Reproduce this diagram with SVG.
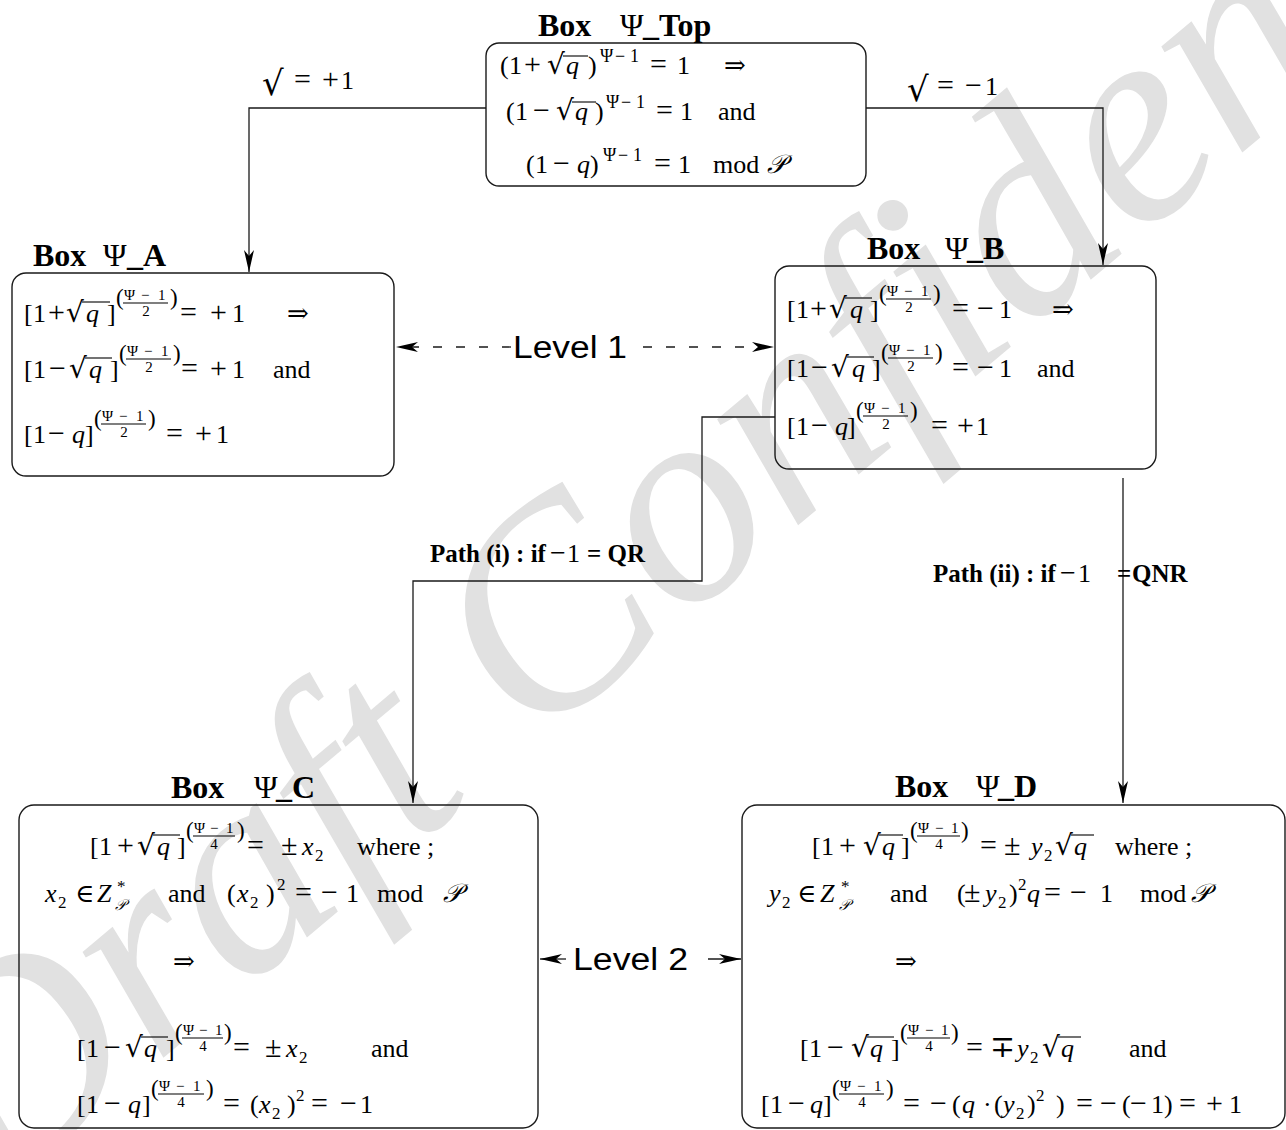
<svg xmlns="http://www.w3.org/2000/svg" width="1286" height="1130" viewBox="0 0 1286 1130">
<defs>
<style>
.t{font-family:"Liberation Serif","DejaVu Serif",serif;font-size:26px;fill:#000}
.i{font-style:italic}
.sp{font-size:18px}
.fr{font-size:15px}
.bp{font-size:23px}
.op{font-size:30px}
.sm{font-size:17px}
.rt{font-family:"DejaVu Serif",serif;font-size:28px}
.rb{font-family:"DejaVu Serif",serif;font-size:34px}
.ttl{font-family:"Liberation Serif",serif;font-weight:bold;font-size:32px;fill:#000}
.n{font-weight:normal}
.pl{font-family:"Liberation Serif",serif;font-weight:bold;font-size:25px;fill:#000}
.lvl{font-family:"Liberation Sans",Arial,sans-serif;font-size:31px;fill:#000}
.box{fill:none;stroke:#1a1a1a;stroke-width:1.4}
.ln{fill:none;stroke:#1a1a1a;stroke-width:1.3}
.dash{stroke-dasharray:9 14}
.vb{stroke:#000;stroke-width:1.1}
.wm{font-family:"Liberation Serif",serif;font-style:italic;fill:#e1e1e1}
</style>
<marker id="ah" viewBox="-24 -6 25 12" refX="0" refY="0" markerWidth="25" markerHeight="12" markerUnits="userSpaceOnUse" orient="auto"><path d="M0,0 L-22,-5 L-16,0 L-22,5 Z" fill="#000"/></marker>
</defs>
<rect x="0" y="0" width="1286" height="1130" fill="#fff"/>
<text class="wm" font-size="290" transform="translate(-6,1200) rotate(-40)">Draft Confidential</text>

<g id="connectors">
<polyline class="ln" points="486,108 249,108 249,272" marker-end="url(#ah)"/>
<polyline class="ln" points="866,108 1103,108 1103,265" marker-end="url(#ah)"/>
<polyline class="ln" points="775,417 702,417 702,581 413,581 413,803" marker-end="url(#ah)"/>
<line class="ln" x1="1123" y1="478" x2="1123" y2="803" marker-end="url(#ah)"/>
<line class="ln dash" x1="511" y1="347" x2="396" y2="347" marker-end="url(#ah)"/>
<line class="ln dash" x1="643" y1="347" x2="774" y2="347" marker-end="url(#ah)"/>
<line class="ln" x1="566" y1="959" x2="540" y2="959" marker-end="url(#ah)"/>
<line class="ln" x1="708" y1="959" x2="741" y2="959" marker-end="url(#ah)"/>
<text class="t" y="95"><tspan class="rb" x="262">√</tspan><tspan class="op" x="294" dy="-6">=</tspan><tspan class="op" x="322">+</tspan><tspan x="341">1</tspan></text>
<text class="t" y="101"><tspan class="rb" x="907">√</tspan><tspan class="op" x="937" dy="-6">=</tspan><tspan class="op" x="965">−</tspan><tspan x="985">1</tspan></text>
<text class="pl" y="562"><tspan x="430">Path (i) : if</tspan><tspan class="n" x="550" font-size="28">−</tspan><tspan class="n" x="567" font-size="26">1</tspan><tspan x="587">= QR</tspan></text>
<text class="pl" y="582"><tspan x="933">Path (ii) : if</tspan><tspan class="n" x="1060" font-size="28">−</tspan><tspan class="n" x="1078" font-size="26">1</tspan><tspan x="1117">=</tspan><tspan x="1132">QNR</tspan></text>
<text class="lvl" x="513" y="358" textLength="114" lengthAdjust="spacingAndGlyphs">Level 1</text>
<text class="lvl" x="573" y="970" textLength="115" lengthAdjust="spacingAndGlyphs">Level 2</text>
</g>

<g id="box-top">
<rect class="box" x="486" y="43" width="380" height="143" rx="13"/>
<text class="ttl" y="36"><tspan x="538">Box</tspan><tspan class="n" x="620">Ψ</tspan><tspan x="643">_Top</tspan></text>
<text class="t" y="74"><tspan x="500">(</tspan><tspan x="509">1</tspan><tspan class="op" x="524">+</tspan><tspan class="rt" x="547">√</tspan><tspan class="i" x="566">q</tspan><tspan x="588">)</tspan><tspan class="op" x="650">=</tspan><tspan x="677">1</tspan><tspan x="724">⇒</tspan></text>
<text class="t sp" y="62"><tspan x="600">Ψ</tspan><tspan x="615">−</tspan><tspan x="630">1</tspan></text>
<line class="vb" x1="563" y1="56" x2="588" y2="56"/>
<text class="t" y="120"><tspan x="506">(</tspan><tspan x="515">1</tspan><tspan class="op" x="533">−</tspan><tspan class="rt" x="556">√</tspan><tspan class="i" x="575">q</tspan><tspan x="595">)</tspan><tspan class="op" x="656">=</tspan><tspan x="680">1</tspan><tspan x="718">and</tspan></text>
<text class="t sp" y="108"><tspan x="606">Ψ</tspan><tspan x="621">−</tspan><tspan x="636">1</tspan></text>
<line class="vb" x1="572" y1="102" x2="596" y2="102"/>
<text class="t" y="173"><tspan x="526">(</tspan><tspan x="535">1</tspan><tspan class="op" x="553">−</tspan><tspan class="i" x="577">q</tspan><tspan x="590">)</tspan><tspan class="op" x="654">=</tspan><tspan x="678">1</tspan><tspan x="713">mod</tspan><tspan class="i" x="767">𝒫</tspan></text>
<text class="t sp" y="161"><tspan x="603">Ψ</tspan><tspan x="618">−</tspan><tspan x="633">1</tspan></text>
</g>

<g id="box-a">
<rect class="box" x="12" y="273" width="382" height="203" rx="14"/>
<text class="ttl" y="266"><tspan x="33">Box</tspan><tspan class="n" x="103">Ψ</tspan><tspan x="127">_A</tspan></text>
<text class="t" y="322"><tspan x="24">[</tspan><tspan x="33">1</tspan><tspan class="op" x="48">+</tspan><tspan class="rt" x="66">√</tspan><tspan class="i" x="86">q</tspan><tspan x="107">]</tspan><tspan class="op" x="180">=</tspan><tspan class="op" x="210">+</tspan><tspan x="232">1</tspan><tspan x="287">⇒</tspan></text>
<line class="vb" x1="82" y1="302" x2="110" y2="302"/>
<text class="t bp" x="116" y="305">(</text>
<text class="t bp" x="170" y="305">)</text>
<text class="t fr" y="300"><tspan x="124">Ψ</tspan><tspan x="141">−</tspan><tspan x="158">1</tspan></text>
<line class="vb" x1="123" y1="303" x2="168" y2="303"/>
<text class="t fr" x="146" y="316" text-anchor="middle">2</text>
<text class="t" y="378"><tspan x="24">[</tspan><tspan x="33">1</tspan><tspan class="op" x="49">−</tspan><tspan class="rt" x="69">√</tspan><tspan class="i" x="89">q</tspan><tspan x="110">]</tspan><tspan class="op" x="181">=</tspan><tspan class="op" x="210">+</tspan><tspan x="232">1</tspan><tspan x="273">and</tspan></text>
<line class="vb" x1="85" y1="358" x2="112" y2="358"/>
<text class="t bp" x="119" y="361">(</text>
<text class="t bp" x="173" y="361">)</text>
<text class="t fr" y="356"><tspan x="127">Ψ</tspan><tspan x="144">−</tspan><tspan x="161">1</tspan></text>
<line class="vb" x1="126" y1="359" x2="171" y2="359"/>
<text class="t fr" x="149" y="372" text-anchor="middle">2</text>
<text class="t" y="443"><tspan x="24">[</tspan><tspan x="33">1</tspan><tspan class="op" x="48">−</tspan><tspan class="i" x="72">q</tspan><tspan x="85">]</tspan><tspan class="op" x="166">=</tspan><tspan class="op" x="195">+</tspan><tspan x="216">1</tspan></text>
<text class="t bp" x="94" y="426">(</text>
<text class="t bp" x="148" y="426">)</text>
<text class="t fr" y="421"><tspan x="102">Ψ</tspan><tspan x="119">−</tspan><tspan x="136">1</tspan></text>
<line class="vb" x1="101" y1="424" x2="146" y2="424"/>
<text class="t fr" x="124" y="437" text-anchor="middle">2</text>
</g>

<g id="box-b">
<rect class="box" x="775" y="266" width="381" height="203" rx="14"/>
<text class="ttl" y="259"><tspan x="867">Box</tspan><tspan class="n" x="945">Ψ</tspan><tspan x="967">_B</tspan></text>
<text class="t" y="318"><tspan x="787">[</tspan><tspan x="796">1</tspan><tspan class="op" x="810">+</tspan><tspan class="rt" x="829">√</tspan><tspan class="i" x="850">q</tspan><tspan x="870">]</tspan><tspan class="op" x="952">=</tspan><tspan class="op" x="977">−</tspan><tspan x="999">1</tspan><tspan x="1052">⇒</tspan></text>
<line class="vb" x1="845" y1="298" x2="872" y2="298"/>
<text class="t bp" x="879" y="301">(</text>
<text class="t bp" x="933" y="301">)</text>
<text class="t fr" y="296"><tspan x="887">Ψ</tspan><tspan x="904">−</tspan><tspan x="921">1</tspan></text>
<line class="vb" x1="886" y1="299" x2="931" y2="299"/>
<text class="t fr" x="909" y="312" text-anchor="middle">2</text>
<text class="t" y="377"><tspan x="787">[</tspan><tspan x="796">1</tspan><tspan class="op" x="811">−</tspan><tspan class="rt" x="831">√</tspan><tspan class="i" x="852">q</tspan><tspan x="872">]</tspan><tspan class="op" x="952">=</tspan><tspan class="op" x="977">−</tspan><tspan x="999">1</tspan><tspan x="1037">and</tspan></text>
<line class="vb" x1="847" y1="357" x2="874" y2="357"/>
<text class="t bp" x="881" y="360">(</text>
<text class="t bp" x="935" y="360">)</text>
<text class="t fr" y="355"><tspan x="889">Ψ</tspan><tspan x="906">−</tspan><tspan x="923">1</tspan></text>
<line class="vb" x1="888" y1="358" x2="933" y2="358"/>
<text class="t fr" x="911" y="371" text-anchor="middle">2</text>
<text class="t" y="435"><tspan x="787">[</tspan><tspan x="796">1</tspan><tspan class="op" x="811">−</tspan><tspan class="i" x="835">q</tspan><tspan x="847">]</tspan><tspan class="op" x="931">=</tspan><tspan class="op" x="957">+</tspan><tspan x="976">1</tspan></text>
<text class="t bp" x="856" y="418">(</text>
<text class="t bp" x="910" y="418">)</text>
<text class="t fr" y="413"><tspan x="864">Ψ</tspan><tspan x="881">−</tspan><tspan x="898">1</tspan></text>
<line class="vb" x1="863" y1="416" x2="908" y2="416"/>
<text class="t fr" x="886" y="429" text-anchor="middle">2</text>
</g>

<g id="box-c">
<rect class="box" x="19" y="805" width="519" height="323" rx="15"/>
<text class="ttl" y="798"><tspan x="171">Box</tspan><tspan class="n" x="254">Ψ</tspan><tspan x="276">_C</tspan></text>
<text class="t" y="855"><tspan x="90">[</tspan><tspan x="99">1</tspan><tspan class="op" x="117">+</tspan><tspan class="rt" x="137">√</tspan><tspan class="i" x="157">q</tspan><tspan x="177">]</tspan><tspan class="op" x="247">=</tspan><tspan class="op" x="281">±</tspan><tspan class="i" x="302">x</tspan><tspan class="sm" x="315" dy="6">2</tspan><tspan x="357" dy="-6">where ;</tspan></text>
<line class="vb" x1="153" y1="835" x2="180" y2="835"/>
<text class="t bp" x="186" y="838">(</text>
<text class="t bp" x="237" y="838">)</text>
<text class="t fr" y="833"><tspan x="194">Ψ</tspan><tspan x="210">−</tspan><tspan x="226">1</tspan></text>
<line class="vb" x1="193" y1="836" x2="235" y2="836"/>
<text class="t fr" x="214" y="849" text-anchor="middle">4</text>
<text class="t" y="902"><tspan class="i" x="45">x</tspan><tspan class="sm" x="58" dy="6">2</tspan><tspan x="75" dy="-6">∈</tspan><tspan class="i" x="97">Z</tspan><tspan x="168">and</tspan><tspan x="227">(</tspan><tspan class="i" x="237">x</tspan><tspan class="sm" x="250" dy="6">2</tspan><tspan x="266" dy="-6">)</tspan><tspan class="sm" x="277" dy="-12">2</tspan><tspan class="op" x="295" dy="12">=</tspan><tspan class="op" x="321">−</tspan><tspan x="346">1</tspan><tspan x="377">mod</tspan><tspan class="i" x="443">𝒫</tspan></text>
<text class="t sm" x="117" y="892">*</text>
<text class="t fr i" x="115" y="910">𝒫</text>
<text class="t" x="173" y="970">⇒</text>
<text class="t" y="1057"><tspan x="77">[</tspan><tspan x="86">1</tspan><tspan class="op" x="104">−</tspan><tspan class="rt" x="125">√</tspan><tspan class="i" x="144">q</tspan><tspan x="166">]</tspan><tspan class="op" x="233">=</tspan><tspan class="op" x="265">±</tspan><tspan class="i" x="286">x</tspan><tspan class="sm" x="299" dy="6">2</tspan><tspan x="371" dy="-6">and</tspan></text>
<line class="vb" x1="141" y1="1037" x2="168" y2="1037"/>
<text class="t bp" x="175" y="1040">(</text>
<text class="t bp" x="224" y="1040">)</text>
<text class="t fr" y="1035"><tspan x="183">Ψ</tspan><tspan x="199">−</tspan><tspan x="215">1</tspan></text>
<line class="vb" x1="182" y1="1038" x2="223" y2="1038"/>
<text class="t fr" x="203" y="1051" text-anchor="middle">4</text>
<text class="t" y="1113"><tspan x="77">[</tspan><tspan x="86">1</tspan><tspan class="op" x="104">−</tspan><tspan class="i" x="128">q</tspan><tspan x="142">]</tspan><tspan class="op" x="223">=</tspan><tspan x="250">(</tspan><tspan class="i" x="259">x</tspan><tspan class="sm" x="272" dy="6">2</tspan><tspan x="287" dy="-6">)</tspan><tspan class="sm" x="296" dy="-12">2</tspan><tspan class="op" x="311" dy="12">=</tspan><tspan class="op" x="340">−</tspan><tspan x="360">1</tspan></text>
<text class="t bp" x="151" y="1096">(</text>
<text class="t bp" x="206" y="1096">)</text>
<text class="t fr" y="1091"><tspan x="159">Ψ</tspan><tspan x="176">−</tspan><tspan x="193">1</tspan></text>
<line class="vb" x1="158" y1="1094" x2="204" y2="1094"/>
<text class="t fr" x="181" y="1107" text-anchor="middle">4</text>
</g>

<g id="box-d">
<rect class="box" x="742" y="805" width="543" height="323" rx="15"/>
<text class="ttl" y="797"><tspan x="895">Box</tspan><tspan class="n" x="976">Ψ</tspan><tspan x="998">_D</tspan></text>
<text class="t" y="855"><tspan x="812">[</tspan><tspan x="821">1</tspan><tspan class="op" x="839">+</tspan><tspan class="rt" x="863">√</tspan><tspan class="i" x="882">q</tspan><tspan x="901">]</tspan><tspan class="op" x="980">=</tspan><tspan class="op" x="1004">±</tspan><tspan class="i" x="1031">y</tspan><tspan class="sm" x="1044" dy="6">2</tspan><tspan class="rt" x="1055" dy="-6">√</tspan><tspan class="i" x="1074">q</tspan><tspan x="1115">where ;</tspan></text>
<line class="vb" x1="879" y1="835" x2="903" y2="835"/>
<line class="vb" x1="1071" y1="835" x2="1094" y2="835"/>
<text class="t bp" x="910" y="838">(</text>
<text class="t bp" x="961" y="838">)</text>
<text class="t fr" y="833"><tspan x="918">Ψ</tspan><tspan x="935">−</tspan><tspan x="951">1</tspan></text>
<line class="vb" x1="917" y1="836" x2="960" y2="836"/>
<text class="t fr" x="939" y="849" text-anchor="middle">4</text>
<text class="t" y="902"><tspan class="i" x="769">y</tspan><tspan class="sm" x="782" dy="6">2</tspan><tspan x="797" dy="-6">∈</tspan><tspan class="i" x="820">Z</tspan><tspan x="890">and</tspan><tspan x="957">(</tspan><tspan class="op" x="964">±</tspan><tspan class="i" x="985">y</tspan><tspan class="sm" x="998" dy="6">2</tspan><tspan x="1009" dy="-6">)</tspan><tspan class="sm" x="1018" dy="-12">2</tspan><tspan class="i" x="1027" dy="12">q</tspan><tspan class="op" x="1044">=</tspan><tspan class="op" x="1070">−</tspan><tspan x="1100">1</tspan><tspan x="1140">mod</tspan><tspan class="i" x="1191">𝒫</tspan></text>
<text class="t sm" x="841" y="892">*</text>
<text class="t fr i" x="839" y="910">𝒫</text>
<text class="t" x="895" y="970">⇒</text>
<text class="t" y="1057"><tspan x="800">[</tspan><tspan x="809">1</tspan><tspan class="op" x="827">−</tspan><tspan class="rt" x="851">√</tspan><tspan class="i" x="870">q</tspan><tspan x="891">]</tspan><tspan class="op" x="966">=</tspan><tspan class="op" x="990">∓</tspan><tspan class="i" x="1017">y</tspan><tspan class="sm" x="1030" dy="6">2</tspan><tspan class="rt" x="1042" dy="-6">√</tspan><tspan class="i" x="1061">q</tspan><tspan x="1129">and</tspan></text>
<line class="vb" x1="867" y1="1037" x2="894" y2="1037"/>
<line class="vb" x1="1058" y1="1037" x2="1081" y2="1037"/>
<text class="t bp" x="900" y="1040">(</text>
<text class="t bp" x="951" y="1040">)</text>
<text class="t fr" y="1035"><tspan x="908">Ψ</tspan><tspan x="925">−</tspan><tspan x="941">1</tspan></text>
<line class="vb" x1="907" y1="1038" x2="950" y2="1038"/>
<text class="t fr" x="929" y="1051" text-anchor="middle">4</text>
<text class="t" y="1113"><tspan x="761">[</tspan><tspan x="770">1</tspan><tspan class="op" x="788">−</tspan><tspan class="i" x="810">q</tspan><tspan x="823">]</tspan><tspan class="op" x="903">=</tspan><tspan class="op" x="930">−</tspan><tspan x="952">(</tspan><tspan class="i" x="962">q</tspan><tspan x="983">·</tspan><tspan x="994">(</tspan><tspan class="i" x="1003">y</tspan><tspan class="sm" x="1016" dy="6">2</tspan><tspan x="1027" dy="-6">)</tspan><tspan class="sm" x="1036" dy="-12">2</tspan><tspan x="1056" dy="12">)</tspan><tspan class="op" x="1076">=</tspan><tspan class="op" x="1100">−</tspan><tspan x="1122">(</tspan><tspan class="op" x="1130">−</tspan><tspan x="1151">1</tspan><tspan x="1164">)</tspan><tspan class="op" x="1179">=</tspan><tspan class="op" x="1206">+</tspan><tspan x="1229">1</tspan></text>
<text class="t bp" x="832" y="1096">(</text>
<text class="t bp" x="886" y="1096">)</text>
<text class="t fr" y="1091"><tspan x="840">Ψ</tspan><tspan x="857">−</tspan><tspan x="874">1</tspan></text>
<line class="vb" x1="839" y1="1094" x2="884" y2="1094"/>
<text class="t fr" x="862" y="1107" text-anchor="middle">4</text>
</g>
</svg>
